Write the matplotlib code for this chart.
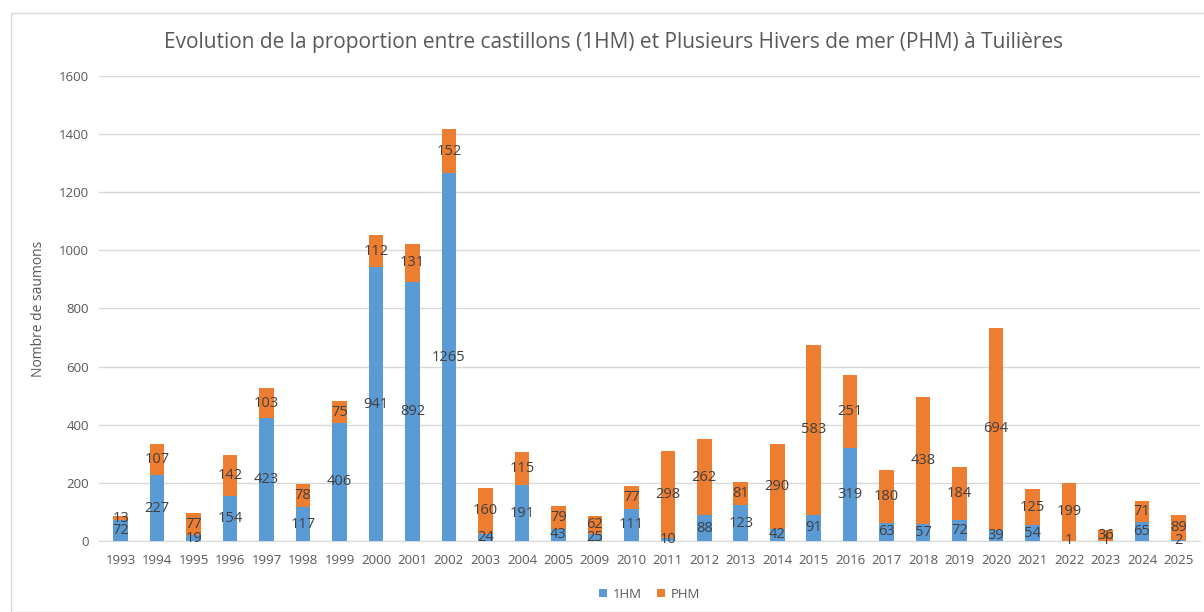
import matplotlib
matplotlib.use("Agg")
import matplotlib.pyplot as plt
import numpy as np
from matplotlib.patches import Rectangle

years = ["1993","1994","1995","1996","1997","1998","1999","2000","2001","2002",
         "2003","2004","2005","2009","2010","2011","2012","2013","2014","2015",
         "2016","2017","2018","2019","2020","2021","2022","2023","2024","2025"]
hm1 = [72,227,19,154,423,117,406,941,892,1265,24,191,43,25,111,10,88,123,42,91,
       319,63,57,72,39,54,1,1,65,2]
phm = [13,107,77,142,103,78,75,112,131,152,160,115,79,62,77,298,262,81,290,583,
       251,180,438,184,694,125,199,36,71,89]

plt.rcParams['font.family'] = ['Open Sans', 'DejaVu Sans']
BLUE = "#5B9BD5"
ORANGE = "#ED7D31"
TXT = "#404040"
TICK = "#595959"

fig = plt.figure(figsize=(12.04, 6.12), dpi=100)
fig.patches.append(Rectangle((0.009, 0.0), 0.995, 0.978, transform=fig.transFigure,
                             fill=False, edgecolor="#D9D9D9", linewidth=1))
ax = fig.add_axes([0.082, 0.116, 0.915, 0.76])
x = np.arange(len(years))
w = 0.40
ax.bar(x, hm1, w, color=BLUE, label="1HM", zorder=3)
ax.bar(x, phm, w, bottom=hm1, color=ORANGE, label="PHM", zorder=3)
for i in range(len(years)):
    ax.text(x[i], hm1[i] / 2, str(hm1[i]), ha="center", va="center", fontsize=10.5, color=TXT, zorder=4)
    ax.text(x[i], hm1[i] + phm[i] / 2, str(phm[i]), ha="center", va="center", fontsize=10.5, color=TXT, zorder=4)

ax.set_ylim(0, 1600)
ax.set_yticks(range(0, 1601, 200))
ax.set_xlim(-0.6, len(years) - 0.4)
ax.set_xticks(x)
ax.set_xticklabels(years)
ax.tick_params(axis="both", length=0, labelsize=9.5, colors=TICK)
ax.tick_params(axis="y", pad=7)
ax.tick_params(axis="x", pad=9)
ax.grid(axis="y", color="#D9D9D9", linewidth=1, zorder=0)
for s in ["top", "right", "left"]:
    ax.spines[s].set_visible(False)
ax.spines["bottom"].set_color("#D9D9D9")
ax.set_ylabel("Nombre de saumons", fontsize=10, color=TICK, labelpad=9)
fig.text(0.51, 0.93, "Evolution de la proportion entre castillons (1HM) et Plusieurs Hivers de mer (PHM) à Tuilières",
         ha="center", va="center", fontsize=15, color=TICK)
ax.legend(loc="upper center", bbox_to_anchor=(0.5, -0.075), ncol=2, frameon=False,
          fontsize=9.5, labelcolor=TICK, handlelength=0.6, handleheight=0.6, columnspacing=1.2, handletextpad=0.4)
fig.savefig("out.png", dpi=100)
